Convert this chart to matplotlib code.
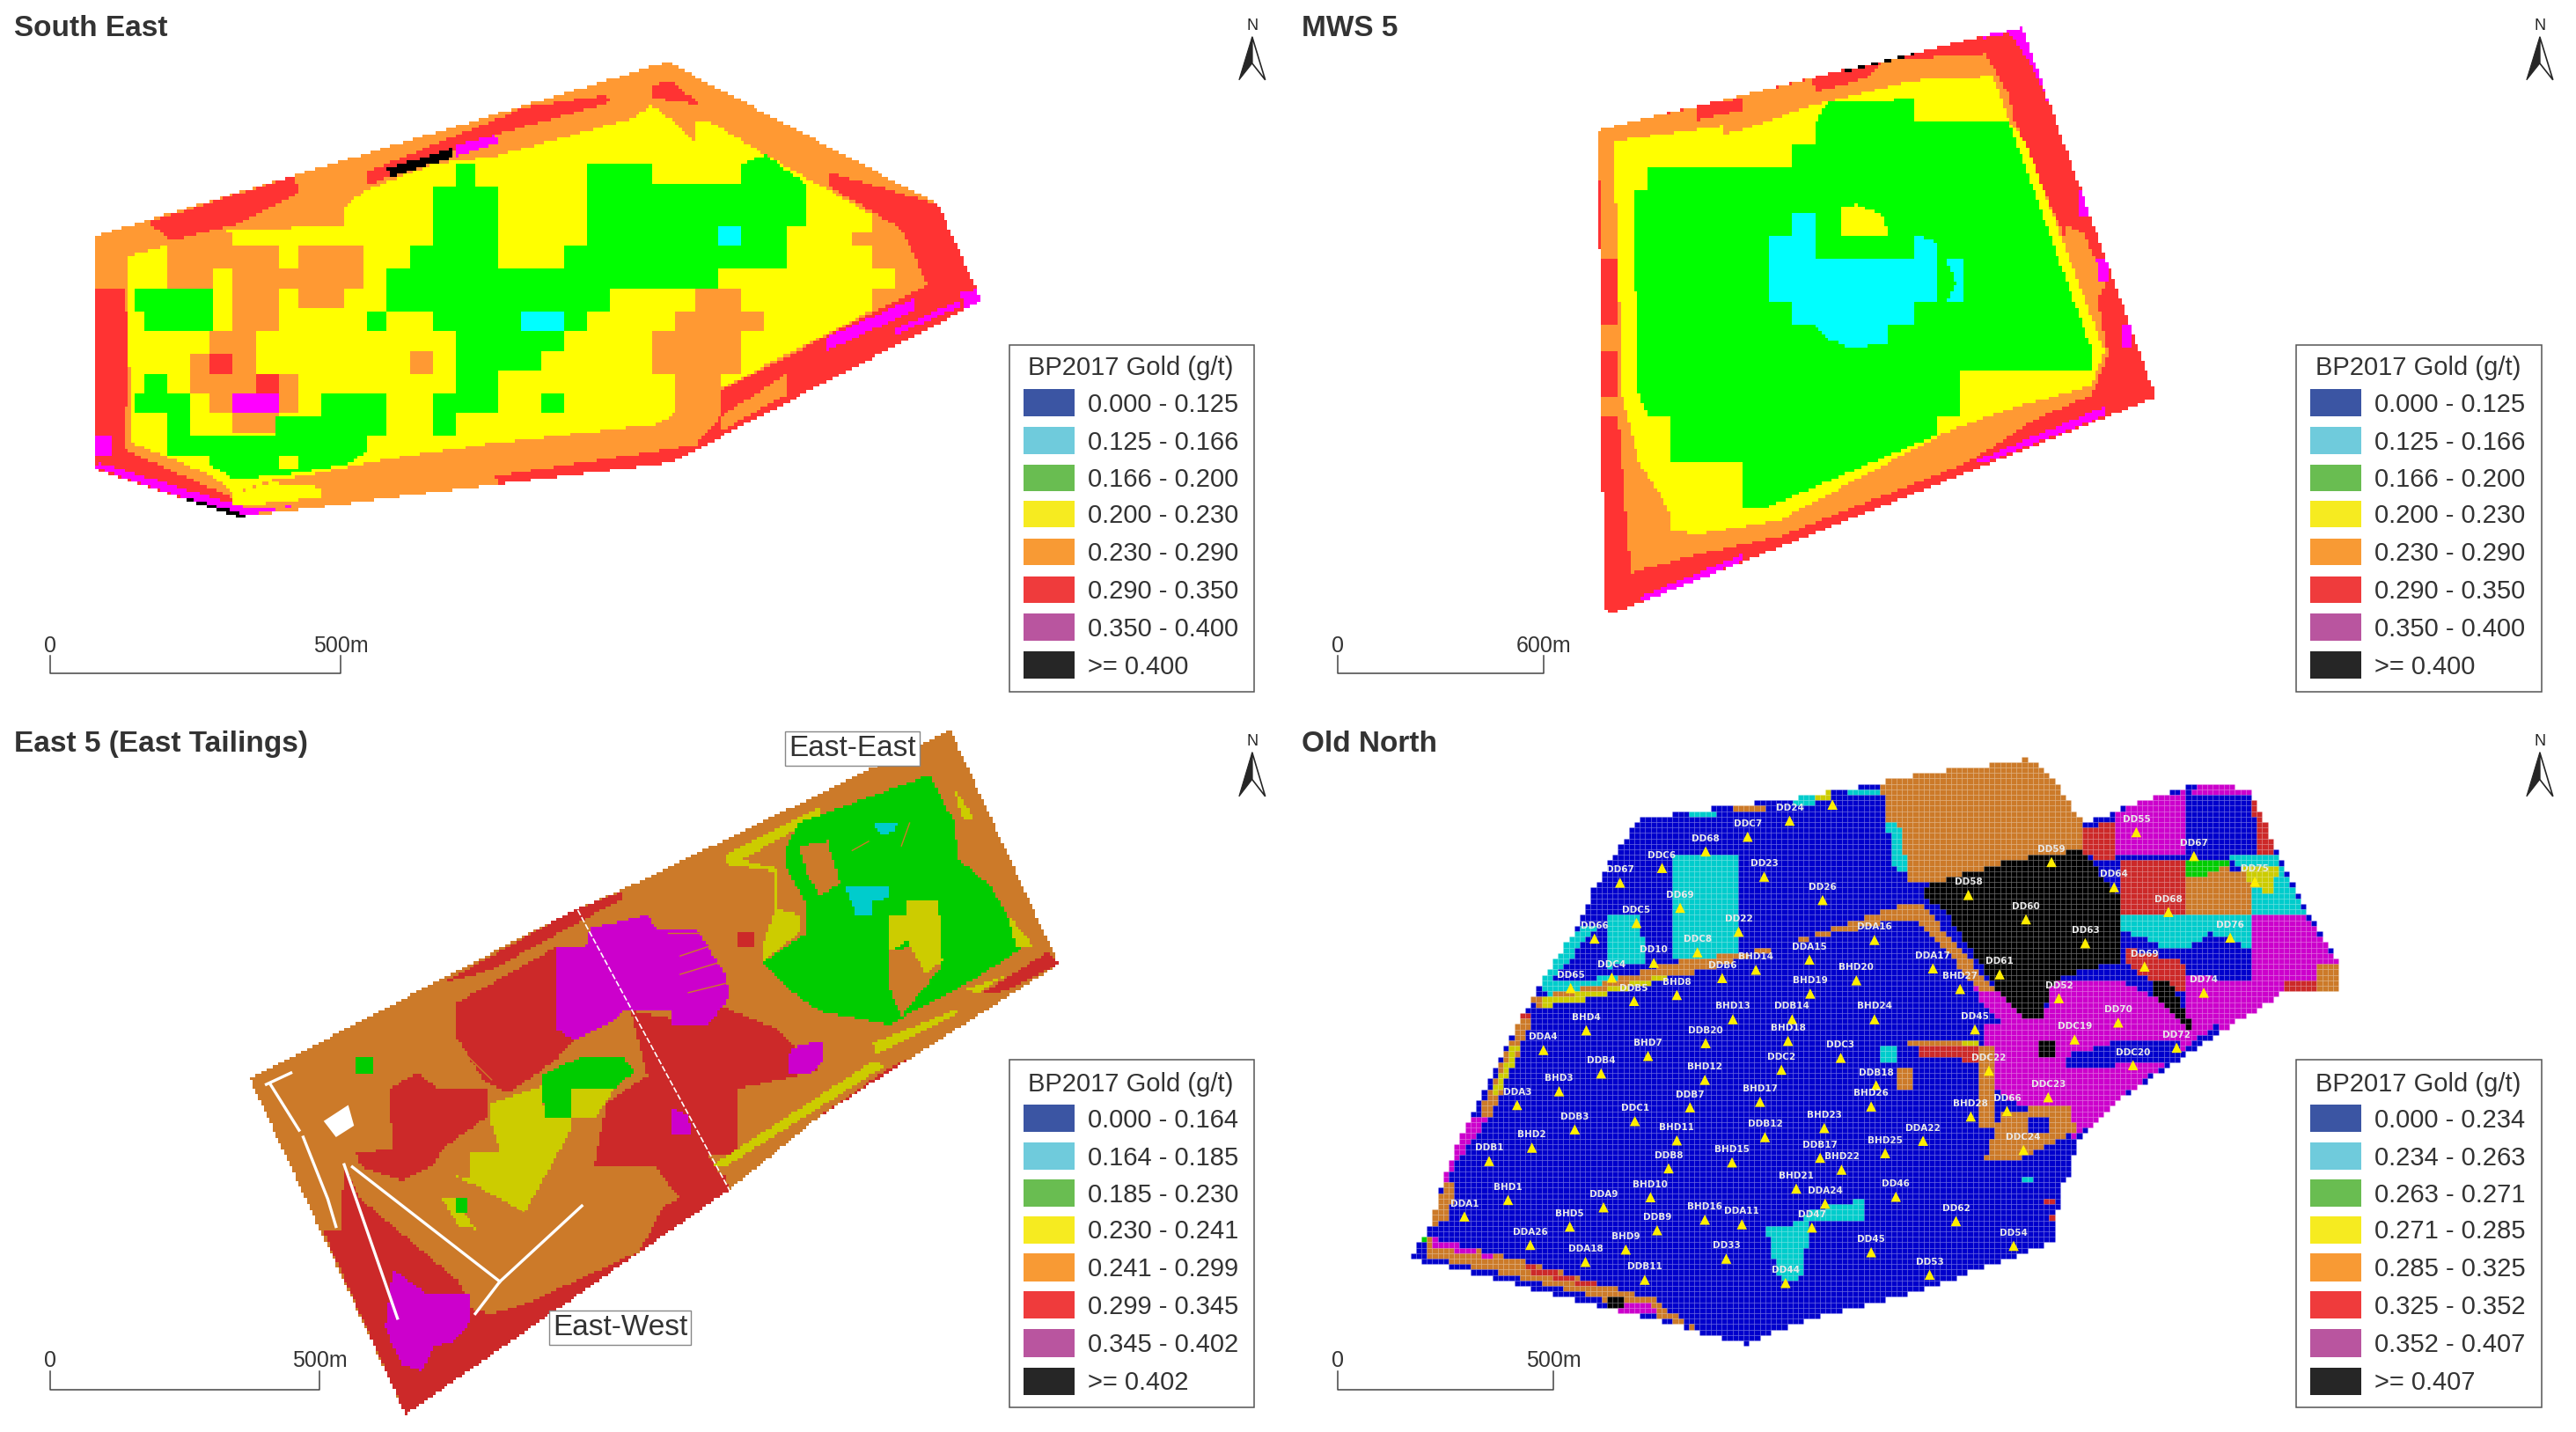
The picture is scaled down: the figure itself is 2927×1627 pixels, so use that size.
#!/usr/bin/env python3
import matplotlib
matplotlib.use("Agg")
import matplotlib.pyplot as plt
import numpy as np
from matplotlib.colors import ListedColormap
from matplotlib.patches import Polygon, Rectangle
from matplotlib.path import Path

plt.rcParams["font.family"] = ["Liberation Sans", "DejaVu Sans"]

W, H = 2927, 1627

# legend
legend_colors = ["#3b55a3", "#6fcbdc", "#69bd51", "#f6eb20", "#f89a34", "#ef3b3c", "#b9559f", "#262626"]
se_labels = ["0.000 - 0.125", "0.125 - 0.166", "0.166 - 0.200", "0.200 - 0.230",
             "0.230 - 0.290", "0.290 - 0.350", "0.350 - 0.400", ">= 0.400"]
east_labels = ["0.000 - 0.164", "0.164 - 0.185", "0.185 - 0.230", "0.230 - 0.241",
               "0.241 - 0.299", "0.299 - 0.345", "0.345 - 0.402", ">= 0.402"]
north_labels = ["0.000 - 0.234", "0.234 - 0.263", "0.263 - 0.271", "0.271 - 0.285",
                "0.285 - 0.325", "0.325 - 0.352", "0.352 - 0.407", ">= 0.407"]

# map classes, bright for the two upper maps and darker for the lower ones
bright = ["#ffffff", "#0000cc", "#00ffff", "#00ff00", "#ffff00", "#ff9933", "#ff3333", "#ff00ff", "#000000"]
dark = ["#ffffff", "#0000cc", "#00cccc", "#00cc00", "#cccc00", "#cc7a29", "#cc2929", "#cc00cc", "#000000"]
BLUE, CYAN, GREEN, YEL, ORA, RED, MAG, BLK = 1, 2, 3, 4, 5, 6, 7, 8

# South East
se_outline = [(118, 525), (180, 490), (815, 138), (1145, 455), (1198, 670), (820, 1030), (385, 1130), (290, 1152), (115, 1045)]
se_zones = [
    (RED, [(180, 495), (360, 392), (365, 430), (290, 500), (210, 535)]),
    (RED, [(445, 385), (640, 240), (740, 212), (745, 228), (605, 300), (450, 412)]),
    (RED, [(795, 190), (820, 180), (855, 235), (825, 225), (795, 220)]),
    (RED, [(1012, 385), (1145, 455), (1198, 670), (820, 1030), (610, 1078), (605, 1060), (800, 1005), (850, 990), (878, 930), (958, 835), (958, 880), (880, 960), (878, 870), (1132, 635), (1100, 510), (1012, 415)]),
    (RED, [(118, 640), (150, 640), (160, 770), (150, 1000), (285, 1110), (290, 1152), (115, 1045)]),
    (YEL, [(155, 570), (285, 510), (420, 505), (420, 460), (445, 425), (530, 365), (600, 350), (660, 320), (770, 265), (795, 235), (825, 275), (850, 320), (850, 270), (865, 270), (935, 345), (1065, 480), (1065, 520), (1040, 520), (1040, 545), (1065, 545), (1065, 600), (1090, 600), (1090, 645), (1065, 645), (1065, 690), (880, 865), (825, 920), (800, 945), (590, 990), (480, 1020), (370, 1060), (330, 1070), (285, 1100), (260, 1060), (160, 985)]),
    (YEL, [(285, 1100), (330, 1075), (390, 1085), (390, 1110), (350, 1115), (285, 1130)]),
    (ORA, [(205, 535), (285, 515), (285, 550), (340, 550), (340, 600), (365, 600), (365, 550), (445, 550), (445, 640), (420, 640), (420, 685), (365, 685), (365, 640), (340, 640), (340, 735), (285, 735), (285, 600), (258, 600), (258, 640), (205, 640)]),
    (ORA, [(258, 735), (312, 735), (312, 830), (365, 830), (365, 920), (340, 920), (340, 965), (285, 965), (285, 920), (258, 920), (258, 875), (232, 875), (232, 785), (258, 785)]),
    (ORA, [(500, 780), (527, 780), (527, 830), (500, 830)]),
    (ORA, [(850, 645), (905, 645), (905, 690), (930, 690), (930, 735), (905, 735), (905, 830), (880, 830), (880, 880), (850, 990), (825, 925), (825, 830), (797, 830), (797, 735), (825, 735), (825, 690), (850, 690)]),
    (RED, [(258, 785), (285, 785), (285, 830), (258, 830)]),
    (RED, [(312, 830), (340, 830), (340, 875), (312, 875)]),
    (GREEN, [(555, 365), (580, 365), (580, 415), (607, 415), (607, 600), (688, 600), (688, 550), (715, 550), (715, 365), (795, 365), (795, 412), (905, 412), (905, 365), (933, 345), (985, 410), (985, 505), (958, 505), (958, 598), (877, 598), (877, 645), (742, 645), (742, 690), (715, 690), (715, 735), (688, 735), (688, 780), (660, 780), (660, 825), (607, 825), (607, 920), (555, 920), (555, 970), (527, 970), (527, 875), (555, 875), (555, 735), (527, 735), (527, 690), (473, 690), (473, 598), (500, 598), (500, 550), (527, 550), (527, 415), (555, 415)]),
    (GREEN, [(447, 690), (473, 690), (473, 735), (447, 735)]),
    (GREEN, [(660, 875), (688, 875), (688, 920), (660, 920)]),
    (GREEN, [(163, 645), (258, 645), (258, 735), (178, 735), (178, 690), (163, 690)]),
    (GREEN, [(178, 830), (205, 830), (205, 875), (232, 875), (232, 920), (163, 920), (163, 875), (178, 875)]),
    (GREEN, [(205, 920), (232, 920), (232, 968), (338, 968), (338, 925), (392, 925), (392, 875), (473, 875), (473, 968), (447, 968), (447, 1010), (420, 1035), (340, 1060), (285, 1065), (258, 1040), (258, 1015), (205, 1012)]),
    (YEL, [(340, 1015), (365, 1015), (365, 1045), (340, 1045)]),
    (CYAN, [(877, 505), (905, 505), (905, 550), (877, 550)]),
    (CYAN, [(635, 690), (688, 690), (688, 735), (635, 735)]),
    (MAG, [(285, 875), (340, 875), (340, 920), (285, 920)]),
    (MAG, [(1010, 750), (1115, 665), (1118, 690), (1010, 780)]),
    (MAG, [(1090, 735), (1170, 670), (1172, 682), (1095, 745)]),
    (MAG, [(1170, 650), (1195, 645), (1198, 680), (1180, 692)]),
    (MAG, [(555, 325), (605, 300), (608, 318), (555, 350)]),
    (MAG, [(115, 1040), (290, 1152), (365, 1125), (310, 1135), (290, 1125), (120, 1030)]),
    (MAG, [(118, 970), (135, 970), (135, 1015), (118, 1015)]),
    (BLK, [(473, 375), (550, 332), (553, 350), (478, 395)]),
    (BLK, [(220, 1105), (290, 1140), (300, 1152), (270, 1152)]),
]

# MWS 5
mws_outline = [(380, 290), (895, 60), (1058, 885), (400, 1365), (388, 1360)]
mws_zones = [
    (RED, mws_outline),
    (ORA, [(380, 290), (640, 175), (645, 205), (705, 175), (730, 135), (850, 120), (870, 180), (880, 215), (885, 265), (945, 520), (985, 650), (1000, 790), (980, 880), (910, 935), (830, 1030), (600, 1195), (500, 1235), (420, 1275), (405, 930), (385, 930), (385, 880), (405, 880), (405, 780), (385, 780), (385, 725), (405, 725), (405, 575), (385, 575)]),
    (RED, [(498, 235), (555, 220), (555, 245), (500, 268)]),
    (ORA, [(945, 500), (970, 520), (998, 630), (985, 670), (960, 600)]),
    (YEL, [(400, 315), (530, 280), (530, 300), (555, 290), (640, 235), (760, 180), (860, 170), (880, 270), (900, 320), (995, 780), (980, 860), (880, 910), (800, 965), (600, 1160), (500, 1190), (470, 1180), (465, 1130), (430, 1030), (410, 880), (400, 350)]),
    (GREEN, [(440, 372), (615, 372), (615, 322), (645, 322), (645, 272), (660, 225), (762, 222), (762, 272), (880, 272), (890, 325), (980, 780), (980, 825), (820, 825), (820, 930), (790, 930), (790, 970), (585, 1130), (555, 1130), (555, 1030), (468, 1030), (468, 930), (440, 925), (430, 875), (422, 425), (440, 425)]),
    (CYAN, [(617, 472), (645, 472), (645, 575), (765, 575), (765, 522), (792, 540), (792, 675), (762, 675), (762, 725), (733, 725), (733, 765), (688, 775), (660, 755), (645, 725), (617, 725), (617, 675), (587, 675), (587, 525), (617, 525)]),
    (YEL, [(675, 522), (675, 465), (695, 455), (725, 480), (733, 522)]),
    (CYAN, [(803, 575), (822, 575), (822, 675), (803, 675), (815, 630)]),
    (MAG, [(880, 75), (895, 60), (940, 270), (925, 220), (905, 140)]),
    (MAG, [(835, 1030), (995, 905), (998, 925), (850, 1030)]),
    (MAG, [(430, 1330), (555, 1235), (555, 1250), (440, 1340)]),
    (MAG, [(1015, 725), (1028, 725), (1028, 775), (1018, 775)]),
    (MAG, [(962, 425), (975, 425), (975, 480), (965, 480)]),
    (MAG, [(985, 575), (998, 575), (1000, 625), (990, 625)]),
    (MAG, [(848, 78), (895, 60), (890, 70), (850, 85)]),
    (BLK, [(678, 150), (765, 115), (765, 122), (680, 160)]),
]

# East 5 (East Tailings)
east_outline = [(305, 798), (700, 430), (760, 385), (1160, 38), (1292, 548), (1000, 880), (890, 1040), (495, 1530), (390, 1125)]
east_zones = [
    (ORA, east_outline),
    (RED, [(393, 1125), (495, 1530), (890, 1045), (885, 1010), (810, 1075), (780, 1175), (700, 1240), (640, 1290), (600, 1310), (575, 1300), (560, 1240), (500, 1150), (440, 1060), (420, 990), (415, 1125)]),
    (RED, [(540, 590), (700, 430), (760, 388), (760, 405), (600, 560)]),
    (RED, [(1000, 880), (1085, 775), (1115, 750), (1110, 780), (1000, 900)]),
    (RED, [(1292, 548), (1280, 520), (1200, 610), (1215, 615)]),
    (RED, [(555, 635), (680, 510), (680, 690), (700, 715), (680, 755), (620, 830), (590, 800), (555, 700)]),
    (RED, [(770, 650), (860, 680), (880, 640), (950, 690), (1000, 780), (900, 820), (900, 960), (865, 965), (890, 1040), (830, 1060), (800, 990), (725, 990), (740, 850), (790, 790)]),
    (RED, [(475, 820), (510, 785), (535, 820), (595, 820), (595, 880), (540, 950), (530, 985), (490, 1020), (440, 990), (435, 960), (480, 950)]),
    (RED, [(900, 478), (920, 478), (920, 510), (900, 510)]),
    (MAG, [(680, 510), (715, 510), (720, 470), (790, 440), (800, 470), (850, 470), (885, 570), (890, 620), (865, 680), (820, 680), (820, 650), (760, 650), (745, 675), (700, 715), (680, 690)]),
    (MAG, [(965, 730), (1005, 715), (1005, 760), (990, 785), (962, 785)]),
    (MAG, [(820, 860), (840, 880), (845, 920), (820, 920)]),
    (MAG, [(480, 1215), (520, 1265), (575, 1265), (575, 1325), (555, 1370), (530, 1380), (515, 1435), (490, 1420), (470, 1340)]),
    (YEL, [(885, 310), (1000, 205), (1000, 225), (905, 320), (950, 340), (950, 430), (975, 440), (975, 480), (930, 545), (930, 510), (945, 430), (945, 345), (885, 330)]),
    (GREEN, [(975, 240), (1135, 135), (1165, 240), (1170, 320), (1210, 380), (1250, 510), (1190, 580), (1085, 680), (1000, 650), (960, 600), (930, 545), (985, 480), (985, 420), (960, 340), (960, 290)]),
    (ORA, [(1085, 520), (1110, 510), (1150, 550), (1100, 660), (1085, 600)]),
    (ORA, [(975, 290), (1010, 280), (1025, 370), (1000, 400), (985, 350)]),
    (YEL, [(1105, 410), (1145, 410), (1150, 540), (1130, 570), (1105, 490)]),
    (YEL, [(1085, 440), (1105, 440), (1105, 500), (1085, 520)]),
    (YEL, [(870, 985), (1065, 760), (1080, 770), (885, 990)]),
    (YEL, [(1065, 720), (1170, 645), (1165, 660), (1070, 745)]),
    (YEL, [(1180, 600), (1225, 575), (1190, 615)]),
    (YEL, [(1230, 440), (1262, 510), (1240, 510)]),
    (YEL, [(1165, 165), (1190, 235), (1175, 235)]),
    (CYAN, [(1030, 375), (1085, 375), (1085, 405), (1065, 410), (1065, 440), (1045, 440)]),
    (CYAN, [(1065, 240), (1095, 240), (1090, 260), (1075, 265)]),
    (YEL, [(600, 850), (660, 815), (665, 880), (695, 885), (695, 915), (640, 1090), (580, 1030), (555, 1010), (575, 1015), (575, 960), (610, 955), (600, 900)]),
    (YEL, [(695, 820), (750, 820), (725, 885), (695, 885)]),
    (GREEN, [(660, 790), (710, 750), (760, 750), (775, 780), (750, 820), (695, 820), (695, 880), (665, 880)]),
    (GREEN, [(435, 750), (455, 750), (455, 785), (435, 785)]),
    (YEL, [(540, 1060), (555, 1060), (580, 1125), (560, 1120)]),
    (GREEN, [(555, 1060), (570, 1060), (570, 1090), (555, 1090)]),
]
east_gaps = [[(325, 810), (355, 785)], [(330, 810), (365, 910)], [(370, 925), (400, 1060), (410, 1120)], [(420, 985), (485, 1320)],
             [(430, 990), (610, 1240)], [(610, 1240), (710, 1075)], [(610, 1240), (580, 1310)]]
east_blob = [(395, 890), (425, 855), (432, 900), (410, 925)]
east_cut = [(705, 430), (890, 1040)]
east_streaks = [[(815, 480), (870, 480)], [(830, 530), (880, 500)], [(830, 570), (885, 540)], [(840, 610), (885, 590)],
                [(1040, 300), (1060, 280)], [(1100, 290), (1110, 240)], [(560, 730), (600, 800)], [(600, 1060), (640, 1090)]]
east_tags = [("East-East", 1040, 78), ("East-West", 757, 1341)]

# Old North
north_outline = [(155, 1185), (180, 1100), (195, 1000), (225, 880), (275, 700), (310, 590), (360, 450), (375, 380), (430, 230), (550, 200), (620, 185), (725, 150), (780, 130), (840, 118), (900, 100), (920, 115), (970, 240), (1060, 180), (1115, 150), (1170, 165), (1205, 300), (1240, 430), (1280, 545), (1280, 612), (1210, 612), (1140, 690), (1000, 860), (960, 940), (955, 1000), (940, 1040), (935, 1150), (880, 1190), (750, 1270), (620, 1330), (560, 1375), (510, 1355), (490, 1340), (420, 1310), (330, 1270), (270, 1240), (155, 1190)]
north_zones = [
    (BLUE, north_outline),
    (ORA, [(722, 150), (780, 130), (840, 118), (900, 100), (920, 115), (970, 240), (965, 300), (880, 320), (790, 370), (760, 370), (740, 290)]),
    (BLK, [(790, 370), (880, 320), (965, 300), (985, 340), (1015, 400), (1015, 540), (935, 580), (920, 660), (900, 680), (860, 590), (800, 430), (770, 390)]),
    (RED, [(965, 250), (1005, 240), (1005, 320), (985, 320), (965, 300)]),
    (MAG, [(1005, 220), (1060, 180), (1095, 170), (1095, 315), (1005, 315)]),
    (RED, [(1015, 320), (1095, 320), (1095, 445), (1015, 445)]),
    (MAG, [(1115, 150), (1170, 165), (1180, 180), (1095, 180)]),
    (ORA, [(1095, 360), (1125, 330), (1175, 350), (1175, 445), (1095, 445)]),
    (GREEN, [(1095, 320), (1145, 320), (1145, 330), (1110, 360), (1095, 360)]),
    (CYAN, [(1145, 315), (1205, 315), (1240, 445), (1175, 445), (1175, 370)]),
    (YEL, [(1160, 330), (1210, 330), (1195, 395), (1175, 380)]),
    (RED, [(1175, 180), (1205, 300), (1180, 315)]),
    (CYAN, [(1015, 445), (1175, 445), (1175, 520), (1145, 490), (1125, 480), (1095, 510), (1065, 510), (1015, 470)]),
    (MAG, [(1175, 445), (1240, 445), (1280, 545), (1250, 610), (1210, 580), (1175, 580), (1175, 520)]),
    (MAG, [(1095, 575), (1175, 580), (1210, 585), (1210, 612), (1140, 690), (1125, 680), (1095, 680)]),
    (ORA, [(1250, 550), (1280, 550), (1280, 612), (1250, 612)]),
    (RED, [(1210, 580), (1250, 580), (1250, 612), (1210, 612)]),
    (MAG, [(935, 580), (1010, 580), (1095, 660), (1130, 680), (1000, 860), (960, 930), (860, 820), (850, 750), (850, 680), (920, 670)]),
    (BLUE, [(945, 750), (1010, 715), (1060, 715), (1090, 720), (1075, 760), (990, 770), (945, 775)]),
    (RED, [(1020, 510), (1095, 545), (1095, 610), (1050, 580), (1020, 545)]),
    (BLK, [(1050, 580), (1075, 590), (1105, 690), (1095, 690), (1055, 620)]),
    (CYAN, [(470, 315), (548, 315), (548, 530), (470, 530)]),
    (CYAN, [(390, 445), (430, 445), (440, 540), (390, 555)]),
    (CYAN, [(585, 1125), (625, 1110), (640, 1085), (700, 1060), (703, 1105), (640, 1110), (625, 1240), (605, 1240), (590, 1180)]),
    (CYAN, [(360, 470), (375, 470), (330, 570), (315, 600), (300, 590), (340, 500)]),
    (CYAN, [(310, 590), (420, 570), (400, 600), (320, 625)]),
    (MAG, [(770, 410), (860, 600), (930, 720), (930, 770), (850, 640)]),
    (ORA, [(300, 625), (380, 590), (480, 540), (600, 510), (720, 435), (760, 415), (780, 440), (730, 455), (620, 500), (500, 565), (380, 605), (310, 645)]),
    (YEL, [(310, 625), (380, 605), (470, 565), (470, 575), (380, 620), (310, 640)]),
    (ORA, [(750, 420), (775, 420), (860, 600), (850, 615)]),
    (RED, [(285, 660), (300, 660), (290, 700), (275, 700)]),
    (ORA, [(285, 670), (300, 670), (250, 880), (235, 880)]),
    (YEL, [(275, 730), (285, 730), (260, 830), (250, 830)]),
    (MAG, [(225, 880), (250, 880), (215, 960), (195, 1020), (195, 1000)]),
    (ORA, [(195, 1020), (210, 1020), (195, 1110), (170, 1120)]),
    (ORA, [(170, 1140), (280, 1190), (450, 1280), (495, 1340), (440, 1310), (330, 1250), (170, 1185)]),
    (MAG, [(180, 1145), (250, 1180), (250, 1190), (180, 1160)]),
    (RED, [(290, 1200), (380, 1245), (380, 1255), (290, 1215)]),
    (MAG, [(400, 1285), (445, 1280), (450, 1305), (405, 1305)]),
    (BLK, [(390, 1275), (410, 1275), (410, 1292), (390, 1292)]),
    (GREEN, [(155, 1125), (170, 1125), (170, 1150), (155, 1150)]),
    (CYAN, [(145, 1155), (158, 1155), (158, 1178), (145, 1178)]),
    (ORA, [(545, 200), (585, 200), (585, 215), (545, 215)]),
    (CYAN, [(490, 215), (525, 215), (525, 230), (490, 230)]),
    (CYAN, [(615, 180), (640, 180), (640, 200), (615, 200)]),
    (YEL, [(640, 170), (660, 170), (660, 190), (640, 190)]),
    (CYAN, [(680, 165), (720, 165), (720, 180), (680, 180)]),
    (CYAN, [(730, 240), (745, 240), (755, 340), (740, 340)]),
    (ORA, [(755, 715), (840, 715), (840, 725), (755, 725)]),
    (RED, [(770, 725), (840, 725), (840, 760), (770, 745)]),
    (YEL, [(820, 715), (845, 715), (845, 730), (820, 730)]),
    (CYAN, [(725, 730), (740, 730), (740, 765), (725, 765)]),
    (ORA, [(745, 770), (760, 770), (760, 825), (745, 825)]),
    (ORA, [(845, 720), (860, 720), (860, 905), (845, 905)]),
    (ORA, [(870, 870), (950, 850), (960, 910), (890, 975), (850, 975), (855, 940)]),
    (BLUE, [(900, 885), (930, 885), (930, 920), (905, 920)]),
    (CYAN, [(898, 1010), (910, 1010), (910, 1028), (898, 1028)]),
    (RED, [(920, 1060), (932, 1060), (932, 1075), (920, 1075)]),
    (RED, [(930, 1095), (940, 1095), (940, 1108), (930, 1108)]),
    (BLK, [(915, 715), (935, 715), (935, 745), (915, 745)]),
]

# borehole collars of Old North
hole_names = ["DD24", "DDC7", "DD68", "DDC6", "DD67", "DD23", "DD26", "DD69", "DDC5", "DD22", "DD66", "DDC8",
              "DD10", "DDC4", "DD65", "DDB6", "BHD14", "DDA15", "DDA16", "DDA17", "BHD20", "BHD19", "BHD8", "DDB5",
              "BHD13", "DDB14", "BHD24", "BHD4", "BHD18", "DDB20", "BHD7", "DDC3", "DDA4", "DDB4", "DDC2", "BHD12",
              "DDB18", "BHD3", "BHD26", "BHD17", "DDB7", "DDA3", "DDC1", "DDB3", "BHD23", "BHD11", "DDB12", "DDA22",
              "BHD25", "BHD2", "DDB1", "BHD15", "DDB8", "DDB17", "BHD22", "BHD21", "BHD10", "DDA9", "BHD1", "DDA24",
              "DD46", "DD62", "DDA1", "BHD5", "DDB9", "BHD16", "DDA11", "DD47", "DDA26", "BHD9", "DDA18", "DD33",
              "DD45", "DD54", "DD53", "DDB11", "DD44", "DD58", "DD60", "DD59", "DD64", "DD63", "DD61", "BHD27",
              "DD52", "DD45", "DD55", "DD67", "DD68", "DD75", "DD76", "DD69", "DD74", "DD70", "DDC19", "DD72",
              "DDC20", "DDC22", "DDC23", "DD66", "BHD28", "DDC24", ""]
hole_x = [613, 562, 511, 458, 407, 582, 653, 480, 427, 551, 376, 501,
          448, 397, 347, 531, 572, 637, 716, 787, 694, 638, 476, 424,
          544, 616, 716, 366, 611, 511, 441, 675, 314, 384, 603, 510,
          718, 333, 712, 577, 492, 282, 425, 352, 655, 476, 583, 775,
          729, 300, 248, 543, 466, 650, 676, 621, 444, 387, 271, 656,
          742, 815, 218, 346, 452, 510, 555, 640, 298, 414, 365, 536,
          712, 885, 783, 437, 608, 830, 900, 931, 1007, 972, 868, 820,
          940, 838, 1034, 1104, 1073, 1178, 1148, 1044, 1116, 1012, 959, 1083,
          1030, 855, 927, 877, 833, 897, 665]
hole_y = [235, 270, 302, 338, 370, 357, 408, 425, 458, 477, 492, 522,
          545, 577, 600, 578, 560, 538, 495, 557, 583, 612, 615, 628,
          668, 668, 668, 692, 715, 720, 748, 752, 735, 786, 778, 800,
          812, 825, 858, 848, 860, 855, 890, 908, 905, 932, 925, 933,
          960, 948, 977, 980, 993, 970, 996, 1037, 1056, 1078, 1062, 1070,
          1055, 1108, 1098, 1120, 1128, 1105, 1115, 1122, 1160, 1170, 1197, 1190,
          1176, 1162, 1225, 1236, 1243, 397, 450, 325, 380, 502, 570, 602,
          622, 690, 260, 312, 434, 368, 490, 553, 610, 675, 712, 730,
          768, 780, 838, 868, 880, 953, 200]


def make_axes(x, y, w, h):
    ax = fig.add_axes([x / W, 1 - (y + h) / H, w / W, h / H])
    ax.set_xlim(0, 1568)
    ax.set_ylim(1568, 0)
    ax.axis("off")
    return ax


def paint(ax, outline, zones, colors, cx, cy, grid=False):
    xe = np.arange(0, 1568 + cx, cx)
    ye = np.arange(0, 1568 + cy, cy)
    xc, yc = np.meshgrid(xe[:-1] + cx / 2, ye[:-1] + cy / 2)
    pts = np.column_stack([xc.ravel(), yc.ravel()])
    inside = Path(outline + [outline[0]]).contains_points(pts).reshape(xc.shape)
    z = np.zeros(xc.shape, dtype=int)
    for cls, poly in zones:
        hit = Path(poly + [poly[0]]).contains_points(pts).reshape(xc.shape)
        z[hit] = cls
    z[~inside] = 0
    # points outside every zone still belong to the base class of the map
    z[inside & (z == 0)] = zones[0][0]
    edge = (1, 1, 1, 0.07) if grid else "none"
    ax.pcolormesh(xe, ye, np.ma.masked_equal(z, 0), cmap=ListedColormap(colors), vmin=-0.5, vmax=8.5,
                  edgecolors=edge, linewidth=0.5 if grid else 0, antialiased=grid, zorder=1)


def decorate(ax, title, title_x, labels, leg_x, leg_top, swatch_ys, scale_txt, bar_x, bar_y0):
    upper = leg_top > 760
    ax.text(title_x, 64 if upper else 68, title, fontsize=24, fontweight="bold", color="#333333", ha="left", va="center", zorder=5)
    # north arrow
    nx = leg_x + 296
    ax.text(nx, 58 if upper else 62, "N", fontsize=13, color="#262626", ha="center", va="center", zorder=5)
    top = 82 if upper else 86
    ax.add_patch(Polygon([(nx, top), (nx - 16, top + 96), (nx, top + 59)], fc="#262626", ec="#262626", lw=0.8, zorder=5))
    ax.add_patch(Polygon([(nx, top), (nx + 16, top + 96), (nx, top + 59)], fc="white", ec="#262626", lw=1.2, zorder=5))
    # scale bar
    ax.plot([bar_x[0], bar_x[0], bar_x[1], bar_x[1]], [bar_y0, bar_y0 + 40, bar_y0 + 40, bar_y0], color="#444444", lw=1.1, zorder=5)
    ax.text(bar_x[0], bar_y0 - 22, "0", fontsize=18, color="#333333", ha="center", va="center", zorder=5)
    ax.text(bar_x[1], bar_y0 - 22, scale_txt, fontsize=18, color="#333333", ha="center", va="center", zorder=5)
    # legend box
    bottom = swatch_ys[-1] + (30 if upper else 28) + 60
    ax.add_patch(Rectangle((leg_x, leg_top), 298, bottom - leg_top, fc="white", ec="#555555", lw=1.1, zorder=4))
    ax.text(leg_x + 148, leg_top + 52, "BP2017 Gold (g/t)", fontsize=21, color="#333333", ha="center", va="center", zorder=5)
    for c, lab, sy in zip(legend_colors, labels, swatch_ys):
        ax.add_patch(Rectangle((leg_x + 17, sy), 62, 60, fc=c, ec="none", zorder=5))
        ax.text(leg_x + 95, sy + 34, lab, fontsize=21, color="#333333", ha="left", va="center", zorder=5)


upper_ys = [867, 951, 1034, 1115, 1199, 1283, 1367, 1451]
lower_ys = [854, 937, 1017, 1097, 1179, 1261, 1344, 1427]

fig = plt.figure(figsize=(W / 100, H / 100), dpi=100, facecolor="white")

ax1 = make_axes(0, 0, 1460, 800)
paint(ax1, se_outline, [(ORA, se_outline)] + se_zones, bright, 4, 7.3)
decorate(ax1, "South East", 17, se_labels, 1232, 768, upper_ys, "500m", (61, 416), 1460)

ax2 = make_axes(1460, 0, 1467, 800)
paint(ax2, mws_outline, mws_zones, bright, 4, 7.3)
decorate(ax2, "MWS 5", 20, se_labels, 1228, 768, upper_ys, "600m", (64, 314), 1460)

ax3 = make_axes(0, 810, 1460, 817)
paint(ax3, east_outline, east_zones, dark, 3.5, 6.3)
for gap in east_gaps:
    ax3.plot(*zip(*gap), color="white", lw=2.4, zorder=2)
ax3.add_patch(Polygon(east_blob, fc="white", ec="none", zorder=2))
ax3.plot(*zip(*east_cut), color="white", lw=1.2, ls=(0, (4, 1.5)), zorder=2)
for streak in east_streaks:
    ax3.plot(*zip(*streak), color="#cc7a29", lw=1, zorder=2)
for tag, tx, ty in east_tags:
    ax3.text(tx, ty, tag, fontsize=24, color="#333333", ha="center", va="center", zorder=5,
             bbox=dict(boxstyle="square,pad=0.12", fc="white", ec="#888888", lw=1))
decorate(ax3, "East 5 (East Tailings)", 17, east_labels, 1232, 757, lower_ys, "500m", (61, 390), 1435)

ax4 = make_axes(1460, 810, 1467, 817)
paint(ax4, north_outline, north_zones, dark, 6.63, 11.9, grid=True)
ax4.scatter(hole_x, hole_y, marker="^", s=70, color="#ffee00", edgecolors="none", zorder=3)
for name, hx, hy in zip(hole_names, hole_x, hole_y):
    ax4.text(hx, hy - 28, name, fontsize=7.5, fontweight="bold", family="DejaVu Sans", color="#e8e8e8",
             ha="center", va="center", zorder=3)
decorate(ax4, "Old North", 20, north_labels, 1228, 757, lower_ys, "500m", (64, 326), 1435)

fig.savefig("out.png", dpi=100, facecolor="white")
